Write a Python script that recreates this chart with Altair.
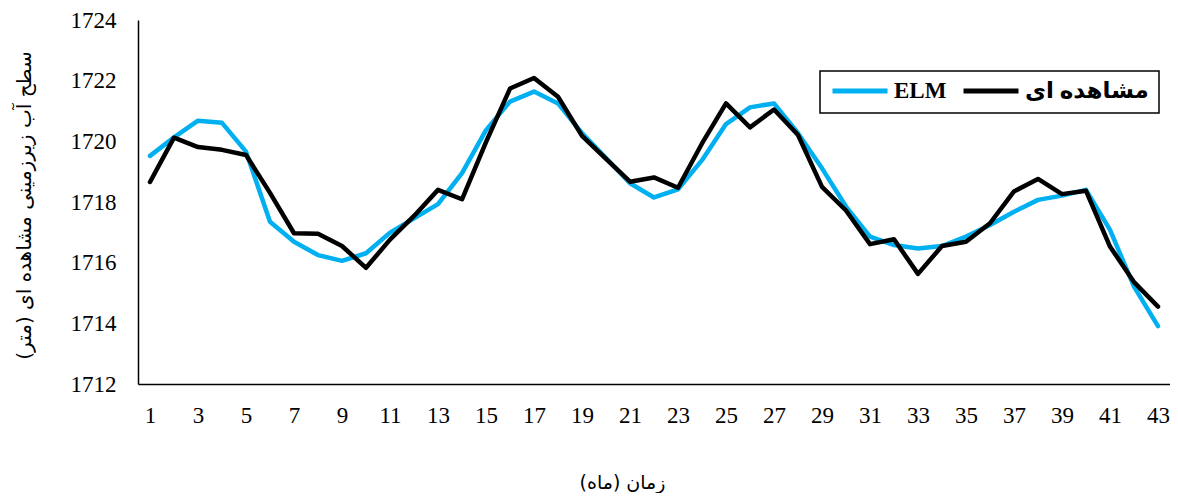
import altair as alt
import pandas as pd

months = list(range(1, 44))
observed = [1718.66, 1720.12, 1719.81, 1719.72, 1719.55, 1718.30, 1716.97, 1716.95, 1716.55, 1715.83,
            1716.76, 1717.54, 1718.40, 1718.09, 1719.97, 1721.74, 1722.09, 1721.47, 1720.18, 1719.42,
            1718.67, 1718.81, 1718.47, 1719.93, 1721.25, 1720.46, 1721.05, 1720.21, 1718.50, 1717.72,
            1716.61, 1716.77, 1715.63, 1716.55, 1716.69, 1717.30, 1718.35, 1718.76, 1718.26, 1718.37,
            1716.53, 1715.36, 1714.55]
elm = [1719.52, 1720.13, 1720.68, 1720.61, 1719.66, 1717.35, 1716.69, 1716.25, 1716.06, 1716.31,
       1716.99, 1717.46, 1717.93, 1718.95, 1720.37, 1721.31, 1721.64, 1721.25, 1720.27, 1719.45,
       1718.62, 1718.15, 1718.42, 1719.38, 1720.57, 1721.12, 1721.25, 1720.27, 1719.11, 1717.85,
       1716.86, 1716.58, 1716.47, 1716.55, 1716.86, 1717.24, 1717.68, 1718.07, 1718.21, 1718.40,
       1717.08, 1715.21, 1713.91]
series_names = ["ELM", "مشاهده ای"]
series_colors = ["#00B0F0", "#000000"]
x_ticks = list(range(1, 44, 2))
y_ticks = [1712, 1714, 1716, 1718, 1720, 1722, 1724]

df = pd.DataFrame({
    "month": months * 2,
    "level": elm + observed,
    "series": [series_names[0]] * len(months) + [series_names[1]] * len(months),
})

color_scale = alt.Scale(domain=series_names, range=series_colors)

x_enc = alt.X("month:Q",
              scale=alt.Scale(domain=[0.5, 43.5], nice=False, zero=False),
              axis=alt.Axis(values=x_ticks, grid=False, ticks=False, domainColor="#000000",
                            domainWidth=1.5, labelFont="Liberation Serif", labelFontSize=23,
                            labelColor="#000000", labelPadding=20,
                            title="زمان (ماه)", titleFont="DejaVu Sans", titleFontSize=19,
                            titleFontWeight="normal", titleColor="#000000",
                            titleX=484, titleY=98, titleBaseline="middle"))
y_enc = alt.Y("level:Q",
              scale=alt.Scale(domain=[1712, 1724], nice=False, zero=False),
              axis=alt.Axis(values=y_ticks, grid=False, ticks=False, domainColor="#000000",
                            domainWidth=1.5, labelFont="Liberation Serif", labelFontSize=23,
                            labelColor="#000000", labelPadding=22, format="d",
                            title="سطح آب زیرزمینی مشاهده ای (متر)", titleFont="DejaVu Sans",
                            titleFontSize=20, titleFontWeight="normal", titleColor="#000000",
                            titleX=-114, titleY=185, titleBaseline="middle", titleAngle=-90))

color_enc = alt.Color("series:N", scale=color_scale, sort=series_names,
                      legend=alt.Legend(orient="none", legendX=682, legendY=51,
                                        direction="horizontal", title=None,
                                        symbolType="stroke", symbolSize=3025,
                                        symbolStrokeWidth=5, clipHeight=20,
                                        labelFont="Liberation Serif, DejaVu Sans",
                                        labelFontSize=23, labelFontWeight="bold",
                                        labelColor="#000000", labelOffset=4,
                                        columnPadding=14, padding=10,
                                        strokeColor="#000000", fillColor="#ffffff",
                                        labelLimit=300))

base = alt.Chart(df)
blue = base.transform_filter(alt.datum.series == series_names[0]).mark_line(
    strokeWidth=4.5, strokeJoin="round", strokeCap="round").encode(
    x=x_enc, y=y_enc, color=color_enc)
black = base.transform_filter(alt.datum.series == series_names[1]).mark_line(
    strokeWidth=4.5, strokeJoin="round", strokeCap="round").encode(
    x=x_enc, y=y_enc, color=color_enc)

chart = alt.layer(blue, black).properties(
    width=1032, height=364,
    autosize=alt.AutoSizeParams(type="none"),
    padding={"left": 130, "top": 12, "right": 0, "bottom": 109},
).configure_view(stroke=None).configure_legend(strokeWidth=1.5)

chart.save("out.html", embed_options={"renderer": "svg", "actions": False})
